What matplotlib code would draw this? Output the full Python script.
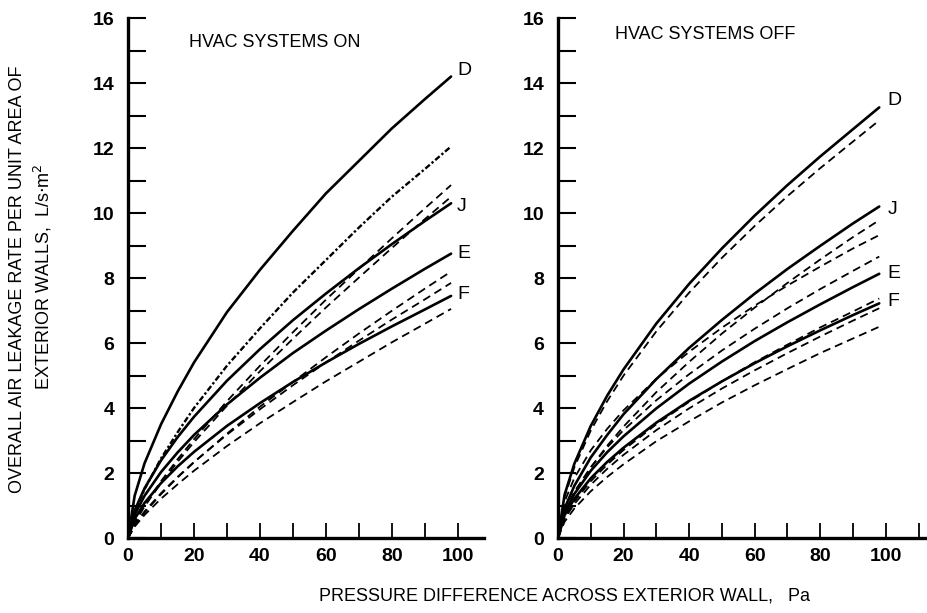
"""
Air leakage rate vs pressure difference, HVAC on / off
"""

import matplotlib
matplotlib.use("Agg")
import matplotlib.pyplot as plt


# ------------------------------------------------------
# Data
# ------------------------------------------------------

pressure = [0, 2, 5, 10, 15, 20, 30, 40, 50, 60, 70, 80, 90, 98]

# HVAC systems ON
on_D = [0, 1.3, 2.3, 3.5, 4.5, 5.4, 6.95, 8.25, 9.45, 10.6, 11.6, 12.6, 13.5, 14.2]
on_J = [0, 0.85, 1.53, 2.39, 3.1, 3.73, 4.84, 5.81, 6.7, 7.52, 8.3, 9.04, 9.75, 10.3]
on_E = [0, 0.72, 1.3, 2.03, 2.63, 3.17, 4.11, 4.93, 5.69, 6.38, 7.04, 7.67, 8.28, 8.75]
on_F = [0, 0.59, 1.08, 1.69, 2.2, 2.65, 3.45, 4.15, 4.8, 5.4, 5.97, 6.51, 7.03, 7.45]

on_dashdot = [0, 0.8, 1.5, 2.45, 3.25, 4.0, 5.3, 6.45, 7.55, 8.55, 9.55, 10.5, 11.35, 12.05]
on_dash_1 = [0, 0.48, 1.0, 1.75, 2.42, 3.04, 4.21, 5.3, 6.33, 7.33, 8.28, 9.22, 10.14, 10.86]
on_dash_2 = [0, 0.47, 0.97, 1.69, 2.34, 2.95, 4.07, 5.13, 6.13, 7.09, 8.01, 8.92, 9.81, 10.5]
on_dash_3 = [0, 0.38, 0.78, 1.35, 1.86, 2.33, 3.21, 4.04, 4.8, 5.56, 6.29, 6.99, 7.67, 8.2]
on_dash_4 = [0, 0.41, 0.82, 1.38, 1.88, 2.34, 3.18, 3.96, 4.7, 5.4, 6.07, 6.72, 7.34, 7.85]
on_dash_5 = [0, 0.35, 0.71, 1.21, 1.65, 2.07, 2.83, 3.53, 4.18, 4.82, 5.42, 6.02, 6.59, 7.05]

# HVAC systems OFF
off_D = [0, 1.33, 2.29, 3.45, 4.38, 5.19, 6.6, 7.82, 8.91, 9.92, 10.86, 11.74, 12.58, 13.25]
off_J = [0, 0.91, 1.61, 2.48, 3.17, 3.81, 4.89, 5.85, 6.71, 7.52, 8.28, 8.99, 9.68, 10.2]
off_E = [0, 0.79, 1.36, 2.07, 2.64, 3.13, 3.99, 4.75, 5.43, 6.06, 6.64, 7.19, 7.72, 8.13]
off_F = [0, 0.7, 1.21, 1.84, 2.34, 2.78, 3.55, 4.22, 4.82, 5.38, 5.9, 6.39, 6.86, 7.22]

off_dash_1 = [0, 1.27, 2.18, 3.31, 4.21, 5.0, 6.36, 7.55, 8.62, 9.6, 10.52, 11.38, 12.2, 12.85]
off_dash_2 = [0, 0.75, 1.37, 2.17, 2.84, 3.43, 4.49, 5.42, 6.29, 7.09, 7.85, 8.57, 9.26, 9.78]
off_dash_3 = [0, 1.12, 1.85, 2.7, 3.36, 3.93, 4.9, 5.73, 6.47, 7.15, 7.77, 8.35, 8.91, 9.32]
off_dash_4 = [0, 0.82, 1.43, 2.18, 2.79, 3.32, 4.24, 5.04, 5.77, 6.44, 7.07, 7.66, 8.22, 8.66]
off_dash_5 = [0, 0.63, 1.13, 1.75, 2.26, 2.71, 3.5, 4.19, 4.82, 5.41, 5.95, 6.48, 6.97, 7.37]
off_dash_6 = [0, 0.59, 1.05, 1.64, 2.13, 2.56, 3.32, 3.99, 4.6, 5.16, 5.69, 6.2, 6.69, 7.07]
off_dash_7 = [0, 0.5, 0.91, 1.44, 1.88, 2.27, 2.98, 3.59, 4.17, 4.7, 5.2, 5.69, 6.14, 6.5]

curve_names = ["D", "J", "E", "F"]
label_nudge = [0.2, -0.1, 0.0, 0.05]

x_ticks = list(range(0, 101, 10))
x_tick_labels = ["0", "", "20", "", "40", "", "60", "", "80", "", "100"]
y_ticks = list(range(0, 17))
y_tick_labels = [str(v) if v % 2 == 0 else "" for v in y_ticks]

# ------------------------------------------------------
# Fonts
# ------------------------------------------------------

plt.rcParams["font.family"] = ["Liberation Sans", "DejaVu Sans"]

# ------------------------------------------------------
# Figure and axes
# ------------------------------------------------------

fig = plt.figure(figsize=(9.28, 6.13), dpi=100)

ax_on = fig.add_axes([0.138, 0.1223, 0.3836, 0.8483])
ax_off = fig.add_axes([0.6013, 0.1223, 0.3956, 0.8483])

solid_style = dict(color="black", lw=1.9, solid_capstyle="round")
dash_style = dict(color="black", lw=1.3, dashes=(4.5, 2.8))
dashdot_style = dict(color="black", lw=1.7, dashes=(2.5, 1.0, 1, 1.0))

# ------------------------------------------------------
# HVAC ON panel
# ------------------------------------------------------

for series in [on_dash_1, on_dash_2, on_dash_3, on_dash_4, on_dash_5]:
    ax_on.plot(pressure, series, **dash_style)

ax_on.plot(pressure, on_dashdot, **dashdot_style)

for series, name, nudge in zip([on_D, on_J, on_E, on_F], curve_names, label_nudge):
    ax_on.plot(pressure, series, **solid_style)
    ax_on.text(99.8, series[-1] + nudge, name, fontsize=14,
               ha="left", va="center")

ax_on.text(18.5, 15.25, "HVAC SYSTEMS ON", fontsize=13, va="center")

# ------------------------------------------------------
# HVAC OFF panel
# ------------------------------------------------------

for series in [off_dash_1, off_dash_2, off_dash_3, off_dash_4,
               off_dash_5, off_dash_6, off_dash_7]:
    ax_off.plot(pressure, series, **dash_style)

for series, name, nudge in zip([off_D, off_J, off_E, off_F], curve_names, label_nudge):
    ax_off.plot(pressure, series, **solid_style)
    ax_off.text(100.6, series[-1] + nudge, name, fontsize=14,
                ha="left", va="center")

ax_off.text(17.4, 15.5, "HVAC SYSTEMS OFF", fontsize=13, va="center")

# ------------------------------------------------------
# Axes styling
# ------------------------------------------------------

for ax, xmax in [(ax_on, 108), (ax_off, 112)]:

    ax.set_xlim(0, xmax)
    ax.set_ylim(0, 16)

    for side in ["top", "right"]:
        ax.spines[side].set_visible(False)

    for side in ["left", "bottom"]:
        ax.spines[side].set_linewidth(2.4)

    ax.set_yticks(y_ticks)
    ax.set_yticklabels(y_tick_labels, fontsize=14, fontweight="bold")
    ax.tick_params(axis="y", direction="in", length=13, width=1.5, pad=10)

    ax.tick_params(axis="x", direction="in", length=11, width=1.3, pad=7)

ax_on.set_xticks(x_ticks)
ax_on.set_xticklabels(x_tick_labels, fontsize=14, fontweight="bold")

ax_off.set_xticks(x_ticks + [110])
ax_off.set_xticklabels(x_tick_labels + [""], fontsize=14, fontweight="bold")

# ------------------------------------------------------
# Axis labels
# ------------------------------------------------------

fig.text(0.019, 0.545, "OVERALL AIR LEAKAGE RATE PER UNIT AREA OF",
         rotation=90, fontsize=13, ha="center", va="center")

fig.text(0.046, 0.548, "EXTERIOR WALLS,  L/s$\\cdot$m$^2$",
         rotation=90, fontsize=13, ha="center", va="center")

fig.text(0.608, 0.028, "PRESSURE DIFFERENCE ACROSS EXTERIOR WALL,   Pa",
         fontsize=13, ha="center", va="center")

fig.savefig("out.png", dpi=100)
